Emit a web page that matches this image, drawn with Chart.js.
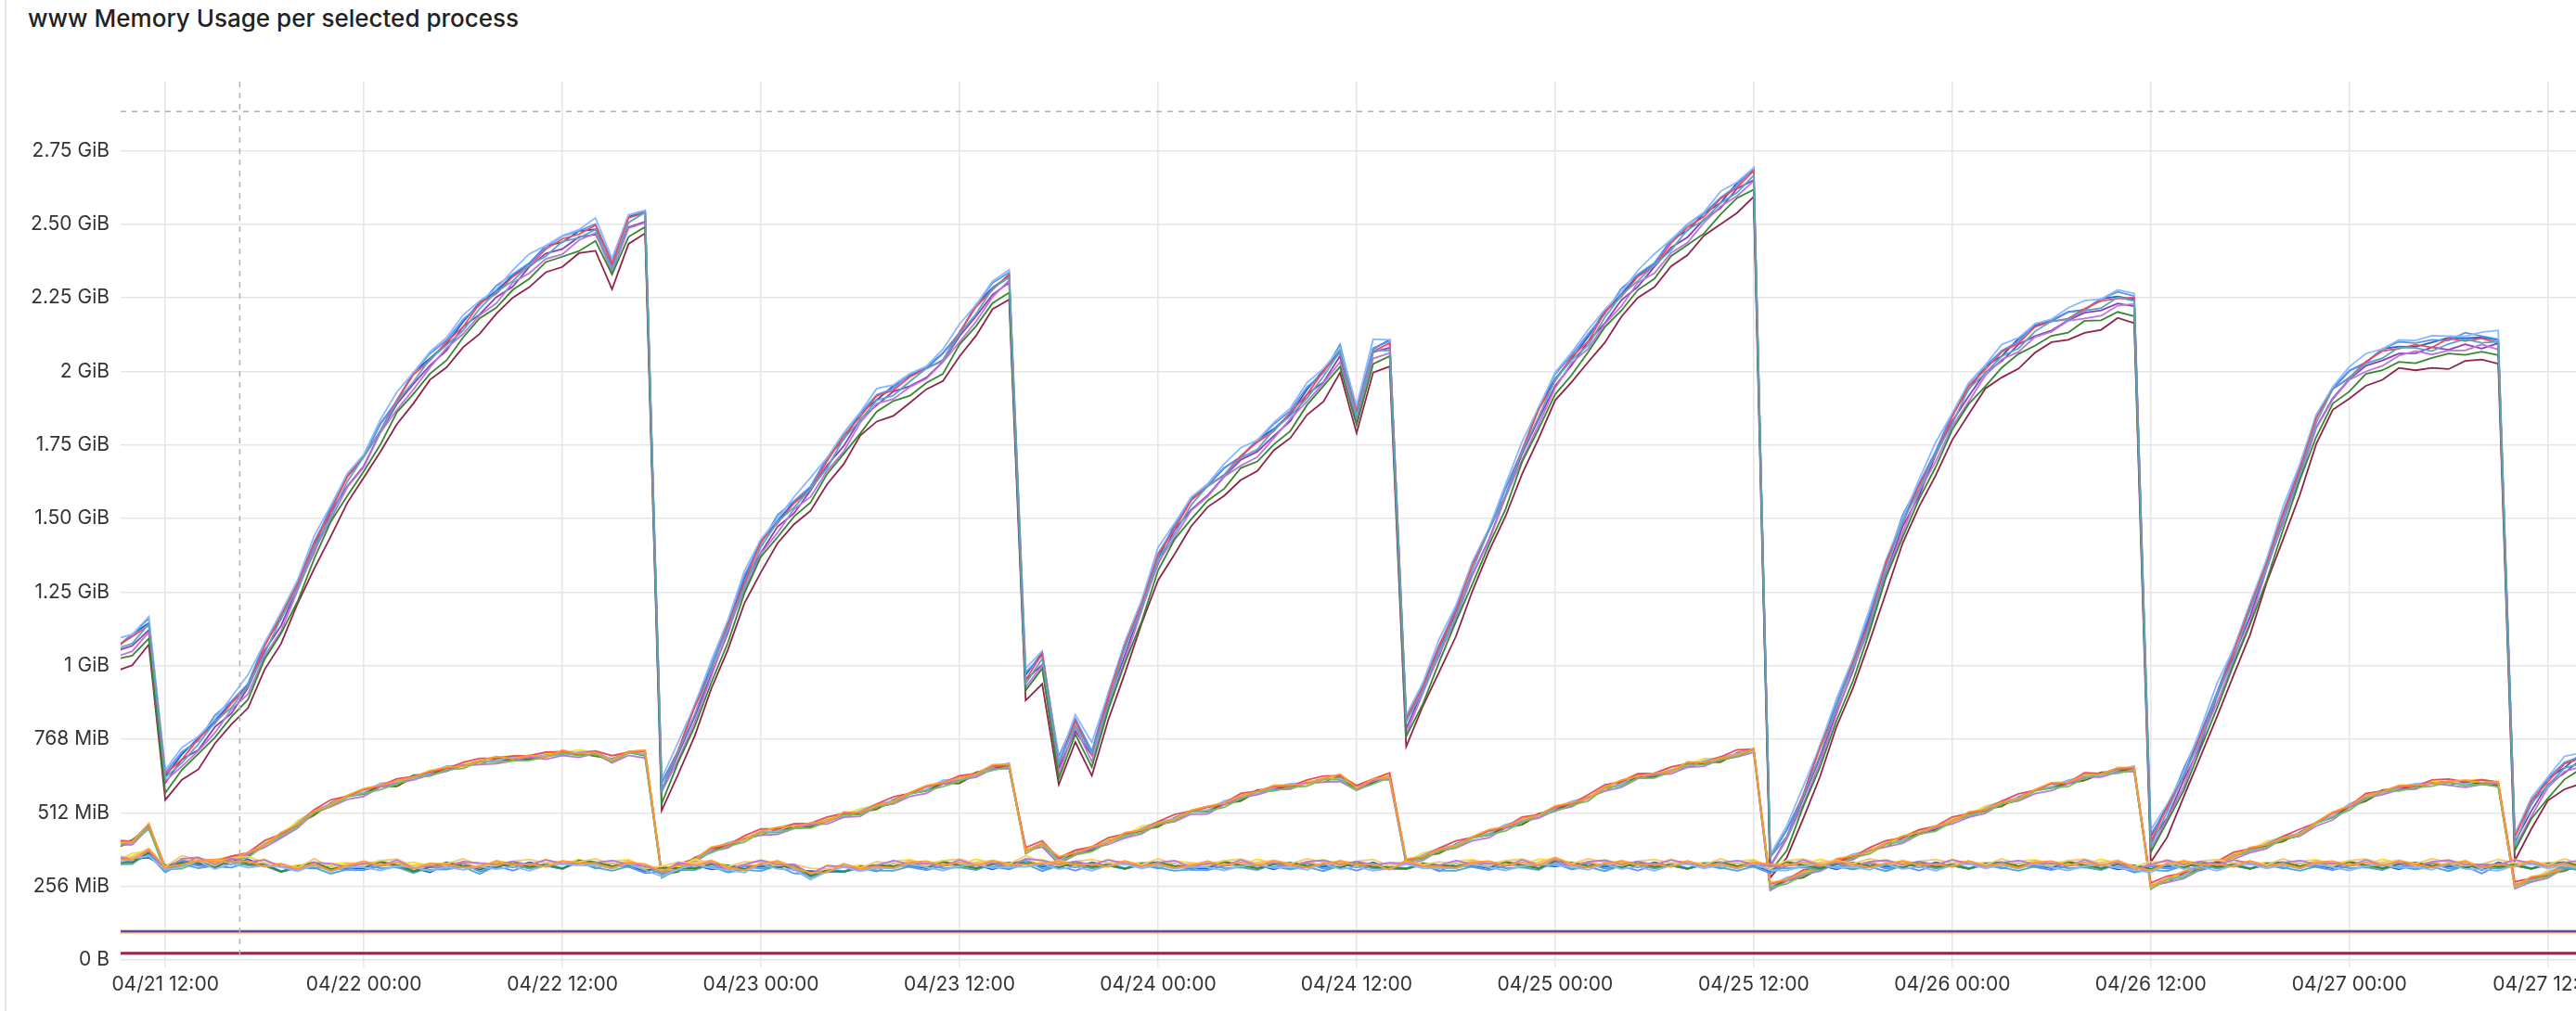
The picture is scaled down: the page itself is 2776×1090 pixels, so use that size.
<!DOCTYPE html>
<html>
<head>
<meta charset="utf-8">
<script src="https://cdn.jsdelivr.net/npm/chart.js@4"></script>
<style>
  html, body { margin:0; padding:0; background:#fff; overflow:hidden; }
  #wrap { position:relative; width:2776px; height:1090px; }
  #panel { position:absolute; left:5px; top:0; bottom:0; border-left:2px solid #e4e4e4; }
  #title { position:absolute; left:30px; top:4px; font:500 26px Inter, "Open Sans", sans-serif; color:#222; }
  canvas { position:absolute; left:0; top:0; }
</style>
</head>
<body>
<div id="wrap">
  <div id="panel"></div>
  <div id="title">www Memory Usage per selected process</div>
  <canvas id="c" width="2776" height="1090"></canvas>
</div>
<script>
// hours since 04/21 00:00
const hours = [];
for (let h = 9; h <= 158; h++) hours.push(h);

const highBase = [1.05,1.08,1.13,0.62,0.68,0.73,0.80,0.86,0.93,1.05,1.15,1.27,1.40,1.52,1.62,1.70,1.80,1.89,1.97,2.03,
  2.09,2.15,2.21,2.26,2.31,2.36,2.40,2.43,2.46,2.48,2.36,2.50,2.53,0.58,0.70,0.84,0.98,1.13,1.28,1.40,
  1.48,1.54,1.60,1.68,1.76,1.84,1.90,1.93,1.96,2.00,2.04,2.12,2.20,2.27,2.32,0.95,1.02,0.66,0.80,0.70,
  0.88,1.05,1.20,1.36,1.46,1.54,1.60,1.65,1.70,1.74,1.79,1.85,1.92,1.98,2.06,1.85,2.07,2.08,0.80,0.92,
  1.05,1.18,1.32,1.45,1.58,1.72,1.85,1.96,2.04,2.10,2.18,2.25,2.31,2.36,2.42,2.47,2.52,2.57,2.62,2.66,
  0.34,0.42,0.55,0.70,0.85,1.00,1.15,1.33,1.48,1.60,1.72,1.83,1.93,2.00,2.05,2.09,2.13,2.16,2.18,2.20,
  2.22,2.24,2.24,0.40,0.50,0.62,0.75,0.90,1.03,1.18,1.34,1.50,1.66,1.82,1.93,1.98,2.02,2.05,2.07,2.08,
  2.08,2.09,2.10,2.10,2.10,0.40,0.52,0.60,0.65,0.68];

const midBase = [0.39,0.40,0.45,0.31,0.32,0.33,0.33,0.34,0.36,0.39,0.42,0.46,0.50,0.53,0.55,0.57,0.59,0.60,0.62,0.63,
  0.65,0.66,0.67,0.68,0.68,0.69,0.69,0.70,0.70,0.70,0.68,0.70,0.70,0.29,0.31,0.34,0.37,0.39,0.41,0.43,
  0.44,0.45,0.46,0.47,0.49,0.50,0.52,0.54,0.56,0.58,0.60,0.61,0.63,0.65,0.66,0.37,0.39,0.34,0.36,0.38,
  0.40,0.42,0.44,0.46,0.48,0.50,0.51,0.53,0.55,0.57,0.58,0.59,0.60,0.61,0.62,0.58,0.61,0.62,0.33,0.35,
  0.37,0.39,0.41,0.43,0.45,0.47,0.49,0.51,0.53,0.55,0.58,0.60,0.62,0.63,0.64,0.66,0.67,0.68,0.70,0.71,
  0.25,0.27,0.29,0.31,0.33,0.35,0.37,0.39,0.41,0.43,0.45,0.47,0.49,0.51,0.53,0.55,0.57,0.59,0.60,0.62,
  0.63,0.64,0.65,0.25,0.27,0.29,0.31,0.33,0.35,0.37,0.39,0.41,0.43,0.46,0.49,0.52,0.55,0.57,0.58,0.59,
  0.60,0.60,0.60,0.60,0.60,0.25,0.27,0.29,0.31,0.32];

const lowBase = [0.33,0.34,0.36,0.31,0.33,0.33,0.32,0.33,0.33,0.32,0.31,0.31,0.32,0.31,0.31,0.32,0.32,0.32,0.31,0.31,
  0.32,0.32,0.31,0.32,0.32,0.32,0.32,0.32,0.33,0.32,0.32,0.32,0.31,0.30,0.31,0.32,0.32,0.31,0.31,0.32,
  0.32,0.31,0.29,0.30,0.31,0.31,0.31,0.32,0.32,0.32,0.32,0.32,0.32,0.32,0.32,0.33,0.32,0.32,0.32,0.32,
  0.32,0.32,0.32,0.32,0.32,0.31,0.32,0.32,0.32,0.32,0.32,0.32,0.32,0.32,0.32,0.32,0.32,0.31,0.32,0.32,
  0.31,0.32,0.32,0.32,0.32,0.32,0.32,0.33,0.32,0.32,0.32,0.32,0.32,0.32,0.32,0.32,0.32,0.32,0.32,0.32,
  0.31,0.32,0.32,0.32,0.32,0.32,0.32,0.32,0.32,0.32,0.32,0.32,0.32,0.32,0.32,0.32,0.32,0.32,0.32,0.32,
  0.32,0.32,0.31,0.31,0.32,0.32,0.32,0.32,0.32,0.32,0.32,0.32,0.32,0.32,0.32,0.32,0.32,0.32,0.32,0.32,
  0.32,0.32,0.32,0.31,0.32,0.32,0.32,0.32,0.32,0.32];

// small wiggle pattern, cycled per series with a different phase
const wiggle = [0.6,-0.4,1.0,0.0,-0.9,0.3,0.8,-0.2,0.1,-0.7,1.0,-0.5,0.2,-1.0,0.5,0.9,-0.3];

const highColors = ['#56A6C0','#F2495C','#37872D','#8AB8FF','#B877D9','#8E244B','#5794F2','#1F60C4','#8F3BB8'];
const highOffsets = [0.0,0.01,-0.04,0.03,-0.02,-0.07,0.02,0.015,-0.01];
const midColors = ['#FF9830','#73BF69','#F2495C','#B877D9','#8AB8FF','#FADE2A','#5A6B16','#6E7A1E'];
const midOffsets = [0.005,-0.004,0.008,-0.006,0.003,0.006,-0.002,0.0];
const lowColors = ['#FF9830','#8AB8FF','#B877D9','#F2C96D','#37872D','#56A6C0','#FFB357','#FADE2A','#5794F2','#1F60C4'];
const lowOffsets = [0.005,-0.005,0.008,0.012,0.002,-0.006,0.006,0.01,-0.004,0.0];

const flatLines = [
  { v: 0.098, c: '#6A4C93' },
  { v: 0.094, c: '#FFB357' },
  { v: 0.024, c: '#8E244B' },
  { v: 0.021, c: '#E0453A' }
];

const xTickHours = [12,24,36,48,60,72,84,96,108,120,132,144,156];
const xTickLabels = ['04/21 12:00','04/22 00:00','04/22 12:00','04/23 00:00','04/23 12:00','04/24 00:00','04/24 12:00',
  '04/25 00:00','04/25 12:00','04/26 00:00','04/26 12:00','04/27 00:00','04/27 12:00'];
const yTickValues = [0,0.25,0.5,0.75,1,1.25,1.5,1.75,2,2.25,2.5,2.75];
const yTickLabels = ['0 B','256 MiB','512 MiB','768 MiB','1 GiB','1.25 GiB','1.50 GiB','1.75 GiB','2 GiB','2.25 GiB','2.50 GiB','2.75 GiB'];

const cursorHour = 16.5;
const thresholdGiB = 2.883;

function group(base, colors, offsets, amp) {
  return colors.map((c, s) => ({
    data: hours.map((h, i) => ({ x: h, y: Math.max(0, base[i] + offsets[s] + amp * wiggle[(i + s * 5) % wiggle.length]) })),
    borderColor: c, borderWidth: 1.8, pointRadius: 0, tension: 0, fill: false
  }));
}

const datasets = [].concat(
  flatLines.map(f => ({ data: [{ x: 9, y: f.v }, { x: 158, y: f.v }], borderColor: f.c, borderWidth: 2.5, pointRadius: 0 })),
  group(lowBase, lowColors, lowOffsets, 0.012),
  group(midBase, midColors, midOffsets, 0.008),
  group(highBase, highColors, highOffsets, 0.012)
);

const guides = {
  id: 'guides',
  afterDatasetsDraw(chart) {
    const { ctx, chartArea, scales } = chart;
    ctx.save();
    ctx.strokeStyle = '#b0b0b0';
    ctx.lineWidth = 1.5;
    ctx.setLineDash([6, 6]);
    const y = scales.y.getPixelForValue(thresholdGiB);
    ctx.beginPath(); ctx.moveTo(chartArea.left, y); ctx.lineTo(chartArea.right, y); ctx.stroke();
    const x = scales.x.getPixelForValue(cursorHour);
    ctx.beginPath(); ctx.moveTo(x, chartArea.top); ctx.lineTo(x, chartArea.bottom); ctx.stroke();
    ctx.restore();
  }
};

new Chart(document.getElementById('c'), {
  type: 'line',
  data: { datasets: datasets },
  plugins: [guides],
  options: {
    responsive: false,
    animation: false,
    layout: { padding: { top: 88, left: 0, right: 0, bottom: 0 } },
    plugins: { legend: { display: false }, tooltip: { enabled: false } },
    scales: {
      x: {
        type: 'linear', min: 9.3, max: 157.7,
        afterBuildTicks: s => { s.ticks = xTickHours.map(v => ({ value: v })); },
        afterFit: s => { s.height = 55; s.paddingLeft = 0; s.paddingRight = 0; },
        ticks: {
          autoSkip: false, maxRotation: 0, padding: 6, color: '#333',
          font: { family: 'Inter, "Open Sans", sans-serif', size: 21 },
          callback: v => xTickLabels[xTickHours.indexOf(v)]
        },
        grid: { color: '#e6e6e6', lineWidth: 1.5, tickLength: 8 },
        border: { display: false }
      },
      y: {
        type: 'linear', min: 0, max: 2.985,
        afterBuildTicks: s => { s.ticks = yTickValues.map(v => ({ value: v })); },
        afterFit: s => { s.width = 130; },
        ticks: {
          padding: 12, color: '#333',
          font: { family: 'Inter, "Open Sans", sans-serif', size: 21 },
          callback: v => yTickLabels[yTickValues.indexOf(v)]
        },
        grid: { color: '#e6e6e6', lineWidth: 1.5, drawTicks: false },
        border: { display: false }
      }
    }
  }
});
</script>
</body>
</html>
